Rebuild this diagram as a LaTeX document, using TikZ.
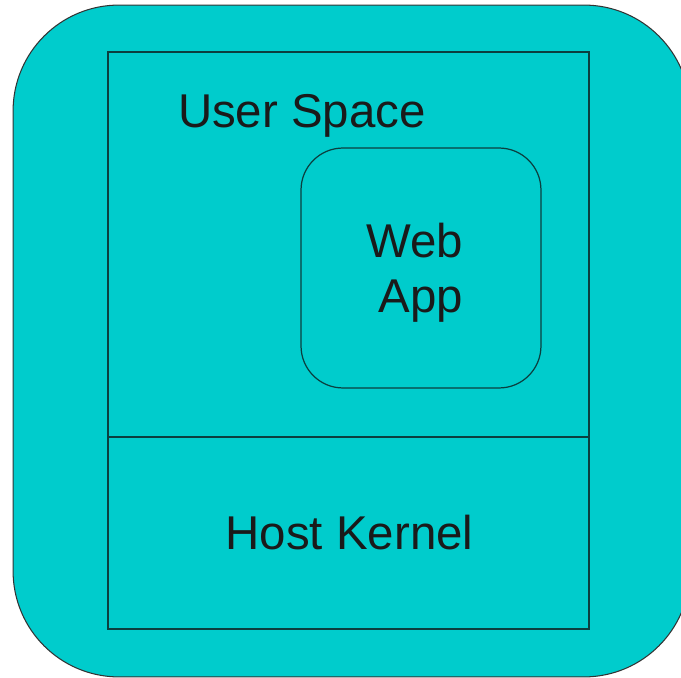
\documentclass[tikz,border=0pt]{standalone}
\usepackage{fontspec}
\setmainfont{Liberation Sans}
\definecolor{hostfill}{HTML}{00CCCC}
\definecolor{edge}{HTML}{0B3F3F}
\definecolor{ink}{HTML}{1A1A1A}
\begin{document}
\begin{tikzpicture}
        [x=0.02cm, y=-0.02cm, inner sep=0pt, outer sep=0pt,
        host/.style={rectangle,rounded corners=2.12cm,draw=black!80,fill=hostfill,line width=0.6pt,
          minimum width=13.54cm,minimum height=13.44cm},
        layer/.style={rectangle,draw=edge,line width=0.8pt,minimum width=9.62cm},
        app/.style={rectangle,rounded corners=0.84cm,draw=edge,line width=0.7pt,
          minimum width=4.8cm,minimum height=4.8cm},
        caption/.style={text=ink,font=\fontsize{27}{31.3}\selectfont}]
        \useasboundingbox (0,0) rectangle (681,678);
        \node (host) at (351.5,341) [host] {};
        \node (user) at (348.5,244.5) [layer, minimum height=7.7cm] {};
        \node (kernel) at (348.5,533) [layer, minimum height=3.84cm] {};
        \node (webapp) at (421,268) [app] {};
        \node (userlbl) at (178,128) [caption, anchor=base west] {User Space};
        \node (weblbl) at (463,258) [caption, anchor=base east] {Web};
        \node (applbl) at (463,313) [caption, anchor=base east] {App};
        \node (kernellbl) at (349.5,550) [caption, anchor=base] {Host Kernel};
      \end{tikzpicture}
\end{document}
